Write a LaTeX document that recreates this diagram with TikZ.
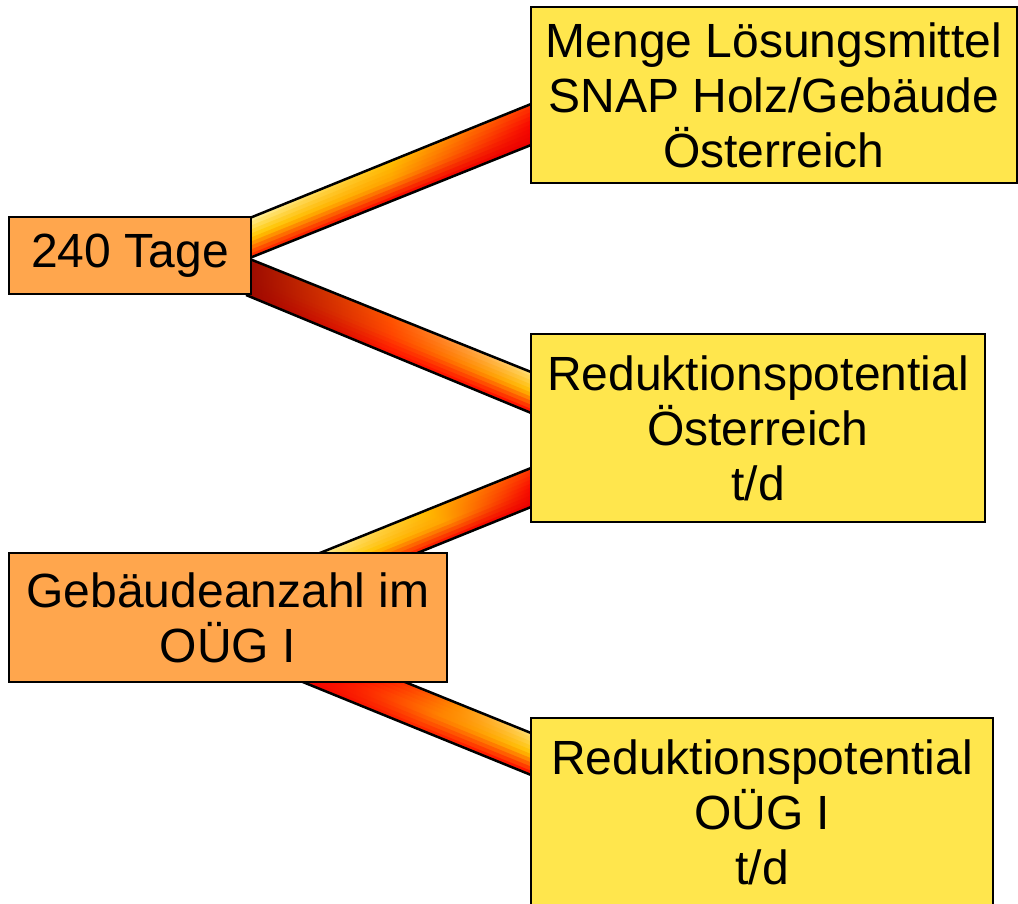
\documentclass[tikz,border=0pt]{standalone}
\usepackage{fontspec}
\setmainfont{Liberation Sans}
\usetikzlibrary{calc}
\definecolor{boxorange}{HTML}{FFA64D}
\definecolor{boxyellow}{HTML}{FFE64D}
\tikzset{
  box/.style={draw=black, line width=2.5pt, inner sep=0pt, align=center,
    font=\fontsize{48}{55}\selectfont},
  srcbox/.style={box, fill=boxorange},
  dstbox/.style={box, fill=boxyellow},
  ribbonedge/.style={draw=black, line width=2.5pt, line join=round}
}
% 9 colours: top L M R, mid L M R, bottom L M R
\newcommand\ribboncolors[9]{%
  \definecolor{rLt}{HTML}{#1}\definecolor{rMt}{HTML}{#2}\definecolor{rRt}{HTML}{#3}%
  \definecolor{rLm}{HTML}{#4}\definecolor{rMm}{HTML}{#5}\definecolor{rRm}{HTML}{#6}%
  \definecolor{rLb}{HTML}{#7}\definecolor{rMb}{HTML}{#8}\definecolor{rRb}{HTML}{#9}}
% corners: top-left, top-right, bottom-right, bottom-left
\newcommand\ribbon[4]{%
  \foreach \k in {0,...,9}{%
    \pgfmathsetmacro\ta{\k/10}%
    \pgfmathsetmacro\tb{min((\k+1.25)/10,1)}%
    \ifnum\k<5
      \pgfmathtruncatemacro\p{100-(\k+0.5)*20}%
      \colorlet{cL}{rLt!\p!rLm}\colorlet{cM}{rMt!\p!rMm}\colorlet{cR}{rRt!\p!rRm}%
    \else
      \pgfmathtruncatemacro\p{100-(\k-5+0.5)*20}%
      \colorlet{cL}{rLm!\p!rLb}\colorlet{cM}{rMm!\p!rMb}\colorlet{cR}{rRm!\p!rRb}%
    \fi
    \shade[left color=cL, right color=cR, middle color=cM]
      ($(#1)!\ta!(#4)$) -- ($(#2)!\ta!(#3)$) -- ($(#2)!\tb!(#3)$) -- ($(#1)!\tb!(#4)$) -- cycle;
  }%
  \draw[ribbonedge] (#1) -- (#2) (#4) -- (#3);
}
\begin{document}
\begin{tikzpicture}[x=1pt, y=-1pt]
\useasboundingbox (0,0) rectangle (1018,904);
\clip (0,0) rectangle (1018,904);

% ribbon corner coordinates
\coordinate (abTL) at (246,219.5);
\coordinate (abTR) at (536,102);
\coordinate (abBR) at (536,143);
\coordinate (abBL) at (246,259.5);

\coordinate (acTL) at (246,257.5);
\coordinate (acTR) at (536,374);
\coordinate (acBR) at (536,415);
\coordinate (acBL) at (246,295);

\coordinate (dcTL) at (310,557);
\coordinate (dcTR) at (536,466);
\coordinate (dcBR) at (536,505);
\coordinate (dcBL) at (410,556);

\coordinate (deTL) at (395,678);
\coordinate (deTR) at (536,735);
\coordinate (deBR) at (536,777);
\coordinate (deBL) at (293,678);

% A -> B
\ribboncolors{FFF4B0}{FFC000}{FF3000}{FFCC00}{FFA000}{F80000}{FF2000}{F80000}{E80000}
\ribbon{abTL}{abTR}{abBR}{abBL}
% A -> C
\ribboncolors{9A0A00}{FF5500}{FFE680}{9A0A00}{FF4500}{FFC400}{9A0A00}{FF1000}{FF0000}
\ribbon{acTL}{acTR}{acBR}{acBL}
% D -> C
\ribboncolors{FFF4B0}{FFC000}{FF3000}{FFCC00}{FFA000}{F80000}{FF2000}{F80000}{E80000}
\ribbon{dcTL}{dcTR}{dcBR}{dcBL}
% D -> E
\ribboncolors{FF1000}{FF9000}{FFE680}{FF0000}{FF8000}{FFC800}{F00000}{FF2000}{FF0000}
\ribbon{deTL}{deTR}{deBR}{deBL}

% boxes
\node[srcbox, minimum width=242pt, minimum height=77pt] (A) at (130,255.5) {240 Tage};
\node[dstbox, minimum width=486pt, minimum height=176pt] (B) at (774,95)
  {Menge Lösungsmittel\\SNAP Holz/Gebäude\\Österreich};
\node[dstbox, minimum width=454pt, minimum height=188pt] (C) at (758,428)
  {Reduktionspotential\\Österreich\\t/d};
\node[srcbox, minimum width=438pt, minimum height=129pt] (D) at (228,617.5)
  {Gebäudeanzahl im\\OÜG I};
\node[dstbox, minimum width=462pt, minimum height=188pt] (E) at (762,812)
  {Reduktionspotential\\OÜG I\\t/d};
\end{tikzpicture}
\end{document}
